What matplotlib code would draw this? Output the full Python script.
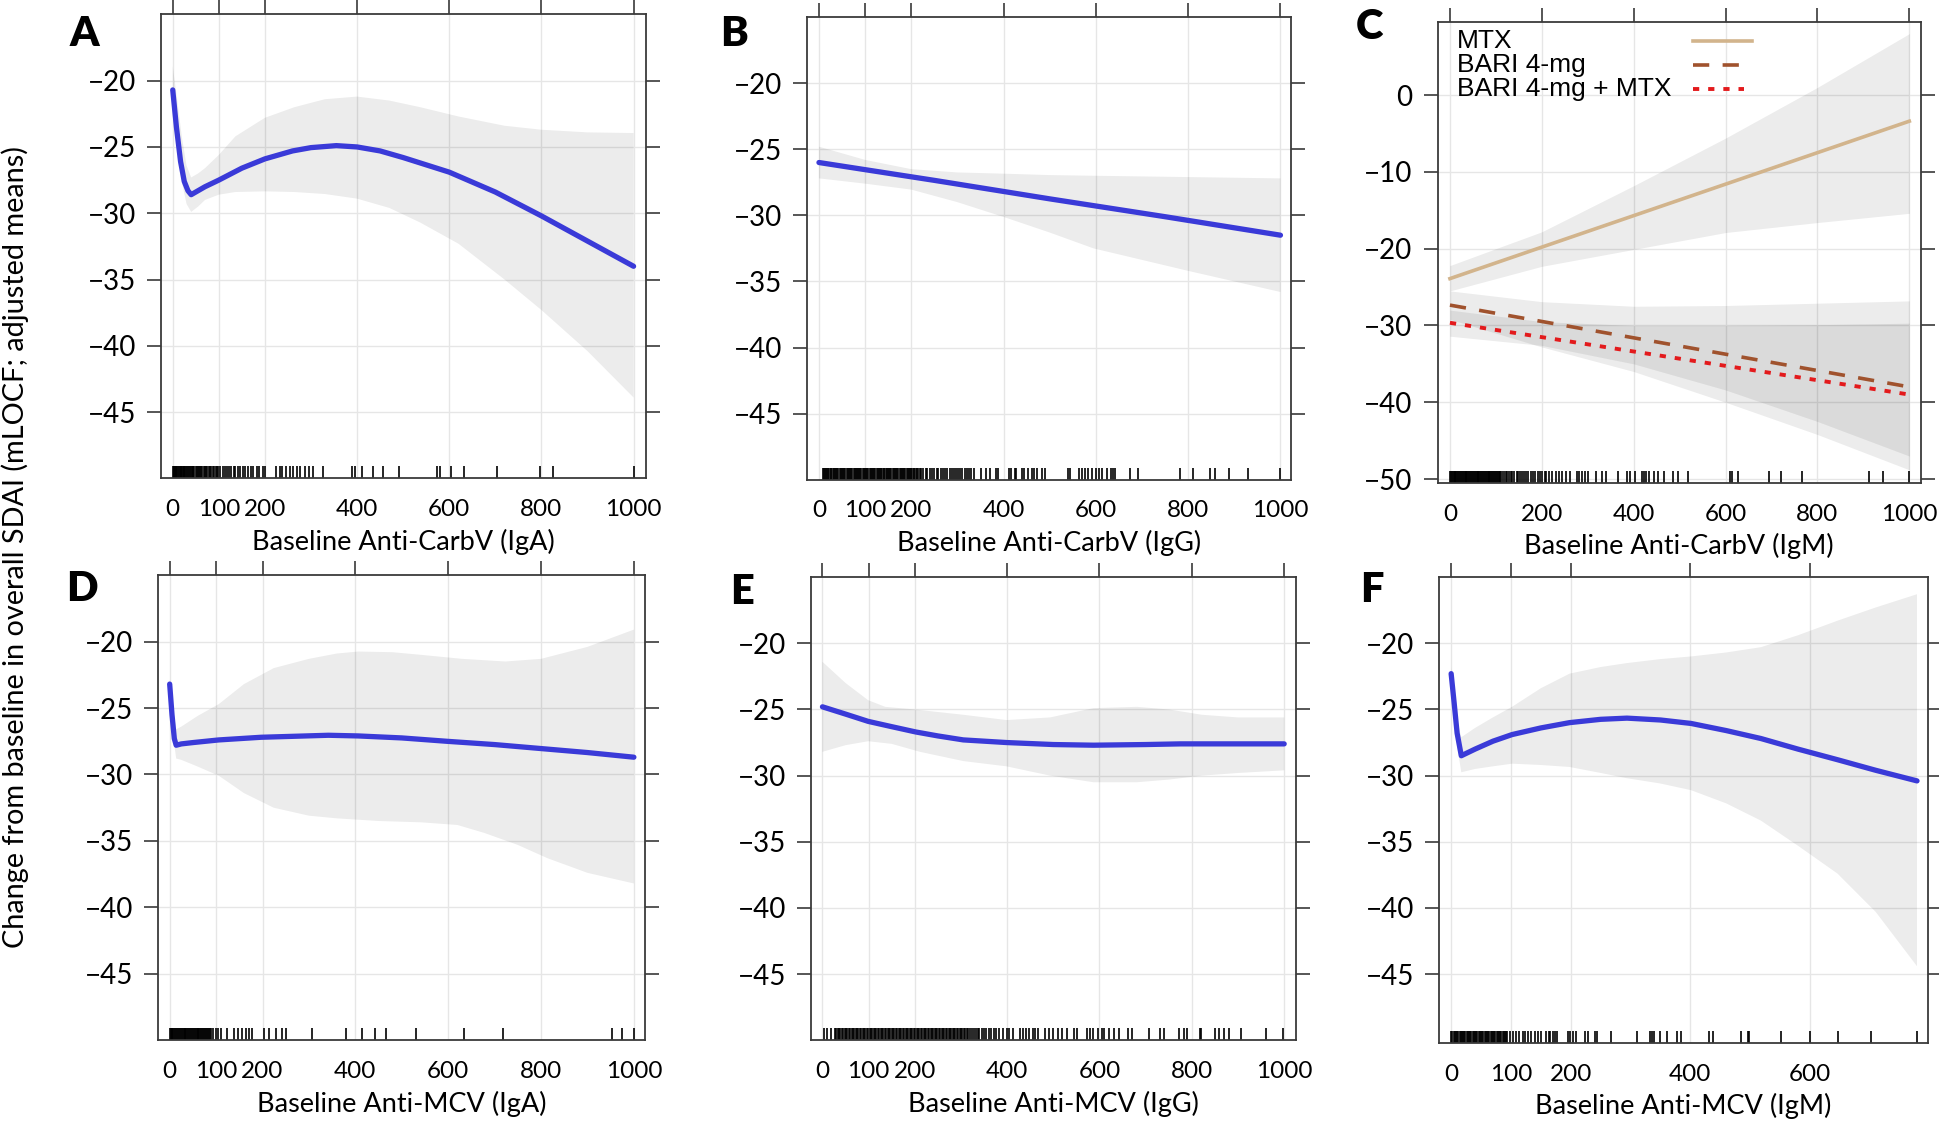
import matplotlib
matplotlib.use('Agg')
import matplotlib.pyplot as plt
from matplotlib.lines import Line2D

plt.rcParams['font.family'] = ['Lato', 'DejaVu Sans']

# ---- panel A : anti-CarbV IgA ----
a_x = [0, 8, 17, 25, 33, 40, 50, 70, 100, 150, 200, 260, 300, 355, 400, 450, 500, 600, 700, 800, 900, 1000]
a_y = [-20.7, -23.5, -26.1, -27.6, -28.3, -28.6, -28.4, -28.0, -27.5, -26.6, -25.9, -25.3, -25.05, -24.9,
       -25.0, -25.3, -25.8, -26.9, -28.4, -30.2, -32.1, -34.0]
a_band_x = [0, 10, 20, 30, 40, 55, 70, 100, 136, 200, 264, 330, 400, 470, 537, 620, 720, 800, 900, 1000]
a_hi = [-18.9, -21.5, -24.3, -26.4, -27.3, -27.0, -26.6, -25.6, -24.2, -22.8, -22.0, -21.4, -21.2, -21.5,
        -22.0, -22.7, -23.4, -23.7, -23.9, -23.95]
a_lo = [-22.6, -25.2, -27.7, -29.3, -29.9, -29.5, -29.0, -28.6, -28.4, -28.35, -28.4, -28.55, -28.9, -29.6,
        -30.7, -32.3, -35.0, -37.3, -40.4, -43.9]
a_rug = [0, 2, 3, 5, 6, 8, 10, 11, 13, 15, 17, 18, 20, 22, 24, 25, 27, 29, 31, 33, 35, 37, 39, 41, 43, 45,
         47, 50, 52, 54, 57, 59, 62, 64, 67, 70, 72, 75, 78, 81, 84, 87, 90, 93, 96, 99, 103,
         108, 114, 118, 123, 127, 132, 136, 142, 147, 153, 157, 163, 169, 175, 182, 187, 195, 200,
         223, 232, 238, 245, 255, 262, 269, 277, 287, 296, 305, 326, 390, 396, 410, 435, 457, 492,
         574, 581, 603, 631, 703, 796, 825, 1000]

# ---- panel B : anti-CarbV IgG ----
b_x = [0, 250, 500, 750, 1000]
b_y = [-26.0, -27.35, -28.75, -30.1, -31.5]
b_band_x = [0, 100, 200, 300, 407, 500, 595, 800, 1000]
b_hi = [-24.8, -25.8, -26.5, -26.75, -26.85, -26.95, -27.0, -27.1, -27.2]
b_lo = [-27.2, -27.6, -28.05, -29.0, -30.2, -31.3, -32.5, -34.2, -35.8]
b_rug = [8, 10, 12, 15, 17, 20, 22, 25, 27, 30, 32, 35, 37, 40, 42, 45, 47, 50, 52, 55, 57, 60, 62, 65,
         67, 70, 72, 75, 77, 80, 82, 85, 87, 90, 92, 95, 97, 100, 102, 105, 107, 110, 112, 115, 117, 120,
         122, 125, 127, 130, 132, 135, 137, 140, 142, 145, 147, 150, 152, 155, 157, 160, 162, 165, 167,
         170, 172, 175, 177, 180, 182, 185, 187, 190, 192, 195, 197, 200, 202, 205, 207, 210, 212, 215, 218,
         222, 226, 231, 235, 240, 245, 250, 255, 259, 264, 268, 273, 278, 283, 288, 292, 297, 301, 306,
         311, 316, 320, 325, 330, 336, 351, 362, 370, 384, 388, 412, 417, 424, 428, 440, 445, 452, 462,
         466, 473, 484, 489, 539, 544, 563, 569, 577, 584, 591, 600, 607, 614, 624, 633, 638, 642, 673,
         692, 782, 810, 848, 859, 889, 929, 1000]

# ---- panel C : anti-CarbV IgM, by treatment ----
c_x = [0, 1000]
c_mtx = [-23.9, -3.4]
c_bari = [-27.35, -38.0]
c_combo = [-29.65, -39.0]
c_band_x = [0, 200, 400, 600, 800, 1000]
c_mtx_hi = [-22.2, -17.8, -11.8, -5.6, 1.0, 8.0]
c_mtx_lo = [-25.5, -22.3, -20.1, -17.9, -16.6, -15.4]
c_bari_hi = [-25.5, -26.9, -27.5, -27.4, -27.1, -26.8]
c_bari_lo = [-29.2, -32.8, -36.0, -40.0, -44.2, -48.8]
c_combo_hi = [-28.0, -29.5, -30.0, -30.0, -29.9, -29.7]
c_combo_lo = [-31.4, -32.6, -35.0, -38.4, -42.5, -47.0]
c_labels = ['MTX', 'BARI 4-mg', 'BARI 4-mg + MTX']
c_rug = [0, 2, 4, 6, 8, 10, 12, 14, 16, 18, 20, 22, 24, 26, 28, 30, 32, 34, 36, 38, 40, 42, 44, 46, 48,
         50, 52, 54, 56, 58, 60, 62, 64, 66, 68, 70, 72, 74, 76, 78, 80, 82, 84, 86, 88, 90, 92, 94, 96,
         98, 100, 102, 104, 106, 108, 110, 114, 118, 121, 125, 129, 133, 136, 140, 145, 149, 153, 157, 162,
         166, 171, 176, 181, 186, 191, 196, 201, 206, 210, 215, 223, 231, 237, 244, 252, 261, 276, 281,
         287, 294, 301, 319, 330, 340, 365, 385, 391, 402, 419, 423, 427, 434, 444, 452, 466, 485, 496,
         519, 609, 614, 627, 694, 720, 767, 912, 942, 1000]

# ---- panel D : anti-MCV IgA ----
d_x = [0, 5, 10, 14, 25, 50, 106, 197, 342, 406, 500, 596, 700, 800, 900, 1000]
d_y = [-23.2, -25.5, -27.3, -27.8, -27.7, -27.6, -27.4, -27.2, -27.05, -27.1, -27.25, -27.5, -27.75,
       -28.05, -28.35, -28.7]
d_hi_x = [0, 5, 14, 25, 60, 106, 160, 224, 300, 360, 406, 480, 542, 630, 723, 800, 900, 1000]
d_hi = [-22.8, -24.5, -26.6, -26.4, -25.6, -24.7, -23.2, -22.0, -21.3, -20.9, -20.75, -20.8, -21.0,
        -21.3, -21.5, -21.3, -20.4, -19.1]
d_lo_x = [0, 5, 14, 25, 60, 106, 160, 224, 300, 360, 450, 542, 620, 678, 750, 814, 900, 1000]
d_lo = [-23.6, -26.5, -28.8, -28.9, -29.4, -30.1, -31.4, -32.5, -33.1, -33.3, -33.5, -33.6, -33.8,
        -34.4, -35.3, -36.3, -37.4, -38.2]
d_rug = [0, 2, 4, 6, 8, 10, 12, 14, 16, 18, 20, 22, 24, 26, 28, 30, 32, 34, 36, 38, 40, 42, 44, 46, 48,
         50, 52, 54, 56, 58, 60, 62, 64, 66, 68, 70, 72, 74, 76, 78, 80, 82, 84, 86, 88,
         93, 99, 104, 111, 124, 138, 147, 156, 165, 170, 177, 204, 215, 229, 241, 251, 306, 380, 415,
         442, 465, 530, 633, 717, 953, 975, 1000]

# ---- panel E : anti-MCV IgG ----
e_x = [0, 50, 99, 150, 202, 250, 305, 399, 500, 587, 700, 775, 900, 1000]
e_y = [-24.8, -25.35, -25.9, -26.3, -26.7, -27.0, -27.3, -27.5, -27.65, -27.7, -27.65, -27.6, -27.6, -27.6]
e_hi_x = [0, 50, 99, 136, 200, 305, 399, 493, 587, 681, 750, 822, 900, 1000]
e_hi = [-21.4, -23.0, -24.3, -24.8, -25.0, -25.4, -25.8, -25.6, -24.9, -24.8, -25.0, -25.4, -25.6, -25.6]
e_lo_x = [0, 50, 99, 150, 211, 305, 399, 493, 587, 681, 750, 822, 900, 1000]
e_lo = [-28.2, -27.7, -27.4, -27.6, -28.2, -28.9, -29.3, -30.0, -30.5, -30.5, -30.3, -30.0, -29.8, -29.6]
e_rug = [3, 9, 19, 27, 30, 33, 36, 39, 42, 45, 48, 51, 54, 57, 60, 63, 66, 69, 72, 75, 78, 81, 84, 87, 90,
         93, 96, 99, 102, 105, 108, 111, 114, 117, 120, 123, 126, 129, 132, 135, 138, 141, 144, 147, 150,
         153, 156, 159, 162, 165, 168, 171, 174, 177, 180, 183, 186, 189, 192, 195, 198, 201, 204, 207,
         210, 213, 216, 219, 222, 225, 228, 231, 234, 237, 240, 243, 246, 249, 252, 255, 258, 261, 264,
         267, 270, 273, 276, 279, 282, 285, 288, 291, 294, 297, 300, 303, 306, 309, 312, 316, 320, 324,
         328, 332, 336, 340, 345, 350, 355, 360, 366, 371, 376, 382, 390, 399, 404, 413, 427, 435, 441,
         448, 455, 460, 467, 482, 491, 500, 510, 519, 530, 545, 551, 573, 579, 585, 596, 606, 610, 620,
         632, 643, 662, 671, 707, 730, 739, 773, 784, 789, 817, 820, 850, 859, 869, 880, 906, 961, 998]

# ---- panel F : anti-MCV IgM ----
f_x = [0, 5, 10, 17, 40, 70, 102, 150, 198, 250, 294, 350, 401, 460, 518, 580, 646, 710, 779]
f_y = [-22.3, -24.5, -26.8, -28.5, -28.0, -27.4, -26.9, -26.4, -26.0, -25.75, -25.66, -25.8, -26.06,
       -26.6, -27.2, -28.0, -28.8, -29.6, -30.4]
f_hi = [-21.8, -23.8, -25.8, -27.1, -26.4, -25.6, -24.8, -23.4, -22.3, -21.8, -21.5, -21.2, -21.0,
        -20.7, -20.3, -19.4, -18.3, -17.3, -16.3]
f_lo = [-22.8, -25.2, -27.8, -29.75, -29.5, -29.3, -29.1, -29.2, -29.35, -29.8, -30.2, -30.6, -31.1,
        -32.1, -33.4, -35.3, -37.4, -40.3, -44.4]
f_rug = [0, 2, 4, 6, 8, 10, 12, 14, 16, 18, 20, 22, 24, 26, 28, 30, 32, 34, 36, 38, 40, 42, 44, 46, 48,
         50, 52, 54, 56, 58, 60, 62, 64, 66, 68, 70, 72, 74, 76, 78, 80, 82, 84, 86, 88, 90, 92, 94,
         99, 103, 108, 113, 120, 124, 129, 134, 140, 145, 150, 159, 163, 166, 170, 174, 177, 195, 198,
         203, 208, 224, 229, 240, 244, 268, 310, 332, 336, 339, 350, 361, 377, 384, 432, 438, 485, 496,
         498, 551, 600, 647, 702, 779]

xlabels = ['Baseline Anti-CarbV (IgA)', 'Baseline Anti-CarbV (IgG)', 'Baseline Anti-CarbV (IgM)',
           'Baseline Anti-MCV (IgA)', 'Baseline Anti-MCV (IgG)', 'Baseline Anti-MCV (IgM)']
letters = ['A', 'B', 'C', 'D', 'E', 'F']
xticks_std = [0, 100, 200, 400, 600, 800, 1000]
yticks_std = [-20, -25, -30, -35, -40, -45]

BLUE = '#3a3ad8'
BAND = (0, 0, 0, 0.075)
C_STYLES = [
    dict(color='#d2b48c', lw=2.6),
    dict(color='#a0522d', lw=2.6, dashes=(4.5, 3.7)),
    dict(color='#e31a1c', lw=2.8, dashes=(1.6, 2.3)),
]


def style_axes(ax, xlim, ylim, xticks, yticks, xlabel):
    ax.set_xlim(*xlim)
    ax.set_ylim(*ylim)
    ax.set_xticks(xticks)
    ax.set_yticks(yticks)
    ax.set_yticklabels(['\u2212%d' % -t if t < 0 else '%d' % t for t in yticks])
    ax.grid(True, color='#e6e6e6', lw=1.0)
    ax.set_axisbelow(True)
    for s in ax.spines.values():
        s.set_color('#3a3a3a')
        s.set_linewidth(1.3)
    # lattice style: no ticks at the bottom (rug sits there), ticks on the other three sides
    ax.tick_params(axis='x', which='both', bottom=False, top=True, direction='out',
                   length=10, width=1.2, color='#3a3a3a', labelsize=17.5, pad=5)
    ax.tick_params(axis='y', which='both', left=True, right=True, direction='out',
                   length=10, width=1.2, color='#3a3a3a', labelsize=20, pad=8)
    ax.set_xlabel(xlabel, fontsize=19.5, labelpad=6)


def draw_rug(ax, values):
    ax.vlines(values, 0, 0.026, transform=ax.get_xaxis_transform(), color='black', lw=1.2)


def draw_smooth(ax, x, y, band_x, hi, lo, lo_x=None):
    if lo_x is None:
        lo_x = band_x
    poly_x = list(band_x) + list(lo_x)[::-1]
    poly_y = list(hi) + list(lo)[::-1]
    ax.fill(poly_x, poly_y, color=BAND, lw=0)
    ax.plot(x, y, color=BLUE, lw=3.8, solid_capstyle='round')


def main():
    fig = plt.figure(figsize=(19.4, 11.23), dpi=100)

    positions = [
        [0.0831, 0.5740, 0.2499, 0.4132],
        [0.4162, 0.5729, 0.2493, 0.4118],
        [0.7410, 0.5700, 0.2491, 0.4103],
        [0.0816, 0.0736, 0.2510, 0.4143],
        [0.4180, 0.0736, 0.2499, 0.4125],
        [0.7420, 0.0712, 0.2517, 0.4150],
    ]
    axA, axB, axC, axD, axE, axF = [fig.add_axes(p) for p in positions]

    # A
    draw_smooth(axA, a_x, a_y, a_band_x, a_hi, a_lo)
    draw_rug(axA, a_rug)
    style_axes(axA, (-25, 1027), (-50, -15), xticks_std, yticks_std, xlabels[0])

    # B
    draw_smooth(axB, b_x, b_y, b_band_x, b_hi, b_lo)
    draw_rug(axB, b_rug)
    style_axes(axB, (-25, 1023), (-50, -15), xticks_std, yticks_std, xlabels[1])

    # C
    for hi, lo in [(c_mtx_hi, c_mtx_lo), (c_bari_hi, c_bari_lo), (c_combo_hi, c_combo_lo)]:
        axC.fill_between(c_band_x, lo, hi, color=BAND, lw=0)
    for yy, st in zip([c_mtx, c_bari, c_combo], C_STYLES):
        axC.plot(c_x, yy, **st)
    draw_rug(axC, c_rug)
    style_axes(axC, (-27, 1025), (-50.5, 9.5), [0, 200, 400, 600, 800, 1000],
               [0, -10, -20, -30, -40, -50], xlabels[2])

    # legend for C: text left-aligned, keys in a column to the right
    key_rows = [0.9596, 0.907, 0.855]
    key_ends = [0.651, 0.628, 0.634]
    for lab, st, yy, xe in zip(c_labels, C_STYLES, key_rows, key_ends):
        axC.text(0.040, yy, lab, transform=axC.transAxes, fontsize=19,
                 family=['Liberation Sans', 'DejaVu Sans'], va='center', ha='left')
        axC.add_line(Line2D([0.528, xe], [yy, yy], transform=axC.transAxes, **st))

    # D
    draw_smooth(axD, d_x, d_y, d_hi_x, d_hi, d_lo, lo_x=d_lo_x)
    draw_rug(axD, d_rug)
    style_axes(axD, (-24.5, 1024.5), (-50, -15), xticks_std, yticks_std, xlabels[3])

    # E
    draw_smooth(axE, e_x, e_y, e_hi_x, e_hi, e_lo, lo_x=e_lo_x)
    draw_rug(axE, e_rug)
    style_axes(axE, (-25, 1025), (-50, -15), xticks_std, yticks_std, xlabels[4])

    # F
    draw_smooth(axF, f_x, f_y, f_x, f_hi, f_lo)
    draw_rug(axF, f_rug)
    style_axes(axF, (-19.5, 797), (-50.2, -15), [0, 100, 200, 400, 600], yticks_std, xlabels[5])

    letter_pos = [(0.0433, 0.9697), (0.3784, 0.9697), (0.7057, 0.9760),
                  (0.0423, 0.4755), (0.3825, 0.4728), (0.7072, 0.4742)]
    for (lx, ly), lt in zip(letter_pos, letters):
        fig.text(lx, ly, lt, fontsize=30, fontweight='heavy', ha='center', va='center')

    fig.text(0.0077, 0.513, 'Change from baseline in overall SDAI (mLOCF; adjusted means)',
             rotation=90, fontsize=20.8, ha='center', va='center')

    fig.savefig('out.png', dpi=100, facecolor='white')


if __name__ == "__main__":
    main()
